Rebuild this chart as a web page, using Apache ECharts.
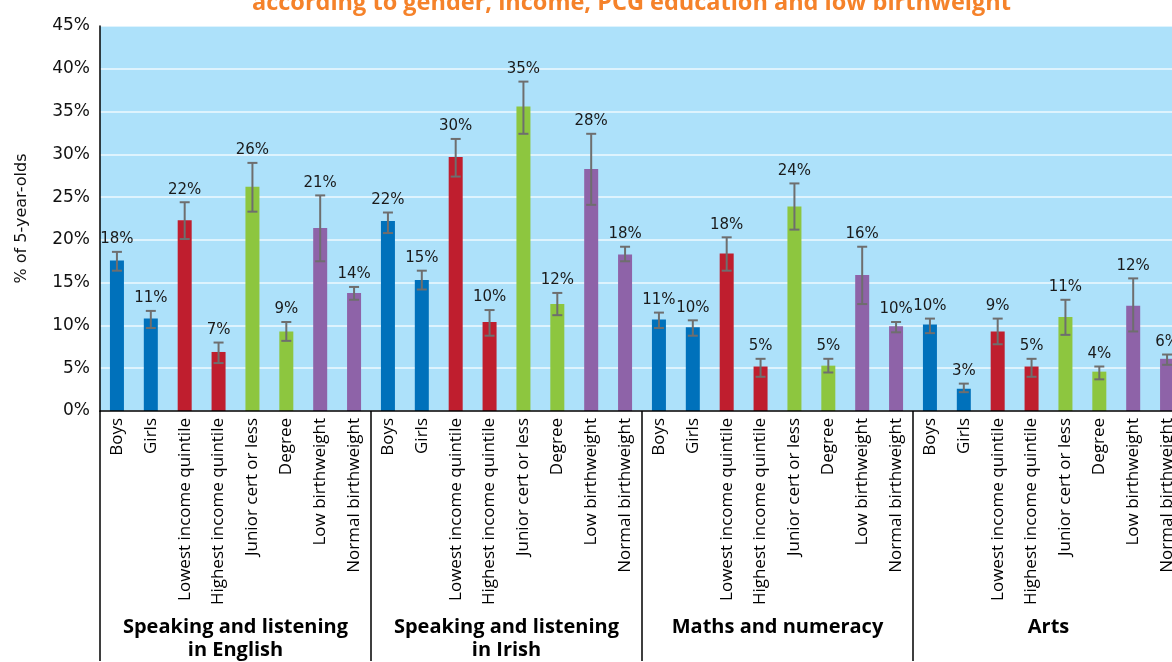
<!DOCTYPE html>
<html>
<head>
<meta charset="utf-8">
<script src="https://cdn.jsdelivr.net/npm/echarts@6/dist/echarts.min.js"></script>
<style>
html,body{margin:0;padding:0;background:#fff;overflow:hidden;}
#chart{width:1172px;height:662px;overflow:hidden;position:relative;}
</style>
</head>
<body>
<div id="chart"></div>
<script>
// ---- data ----
const subCategories = ['Boys','Girls','Lowest income quintile','Highest income quintile','Junior cert or less','Degree','Low birthweight','Normal birthweight'];
const groups = ['Speaking and listening\nin English','Speaking and listening\nin Irish','Maths and numeracy','Arts'];
const yTicks = [0,5,10,15,20,25,30,35,40,45];
const titleText = 'according to gender, income, PCG education and low birthweight';
const yAxisName = '% of 5-year-olds';

const englishValues = [17.6, 10.8, 22.3, 6.9, 26.2, 9.3, 21.4, 13.8];
const englishLow    = [16.4, 9.7, 20.1, 5.6, 23.3, 8.2, 17.5, 13.0];
const englishHigh   = [18.6, 11.7, 24.4, 8.0, 29.0, 10.4, 25.2, 14.5];
const englishLabels = ['18%','11%','22%','7%','26%','9%','21%','14%'];

const irishValues = [22.2, 15.3, 29.7, 10.4, 35.6, 12.5, 28.3, 18.3];
const irishLow    = [20.8, 14.2, 27.4, 8.8, 32.4, 11.2, 24.1, 17.5];
const irishHigh   = [23.2, 16.4, 31.8, 11.8, 38.5, 13.8, 32.4, 19.2];
const irishLabels = ['22%','15%','30%','10%','35%','12%','28%','18%'];

const mathsValues = [10.7, 9.8, 18.4, 5.2, 23.9, 5.3, 15.9, 9.9];
const mathsLow    = [9.7, 8.8, 16.4, 4.0, 21.2, 4.5, 12.5, 9.2];
const mathsHigh   = [11.5, 10.6, 20.3, 6.1, 26.6, 6.1, 19.2, 10.4];
const mathsLabels = ['11%','10%','18%','5%','24%','5%','16%','10%'];

const artsValues = [10.1, 2.6, 9.3, 5.2, 11.0, 4.6, 12.3, 6.1];
const artsLow    = [9.1, 2.2, 7.8, 4.0, 8.9, 3.7, 9.3, 5.4];
const artsHigh   = [10.8, 3.2, 10.8, 6.1, 13.0, 5.2, 15.5, 6.6];
const artsLabels = ['10%','3%','9%','5%','11%','4%','12%','6%'];

// ---- styles ----
const palette = ['#0071BB','#0071BB','#BF1E2E','#BF1E2E','#8DC63F','#8DC63F','#8E63A8','#8E63A8'];

// ---- build ----
const allValues = [].concat(englishValues, irishValues, mathsValues, artsValues);
const allLow = [].concat(englishLow, irishLow, mathsLow, artsLow);
const allHigh = [].concat(englishHigh, irishHigh, mathsHigh, artsHigh);
const allLabels = [].concat(englishLabels, irishLabels, mathsLabels, artsLabels);
const xKeys = [];
groups.forEach((g, gi) => subCategories.forEach((c, ci) => xKeys.push(gi + '|' + ci)));

const barData = allValues.map((v, i) => ({ value: v, itemStyle: { color: palette[i % 8] } }));
const errData = allValues.map((v, i) => [i, allLow[i], allHigh[i], allLabels[i]]);

// The chart canvas is a little wider than the window: the last group is cut at the right edge, as in the reference.
const chart = echarts.init(document.getElementById('chart'), null, { renderer: 'canvas', width: 1184, height: 662 });
const option = {
  animation: false,
  backgroundColor: '#ffffff',
  title: {
    text: titleText,
    left: 252,
    top: -9,
    padding: 0,
    textStyle: { color: '#F5822A', fontFamily: 'Open Sans', fontWeight: 'bold', fontSize: 23.5 }
  },
  grid: {
    left: 100, width: 1084, top: 26, height: 391,
    show: true, backgroundColor: '#ADE1FA', borderWidth: 0
  },
  xAxis: [
    {
      type: 'category',
      data: xKeys,
      axisLine: { show: true, lineStyle: { color: '#000', width: 1.5 } },
      axisTick: { show: false },
      axisLabel: {
        interval: 0, rotate: 90, margin: 7,
        fontFamily: 'Open Sans', fontSize: 17, color: '#000',
        formatter: (v) => subCategories[+v.split('|')[1]]
      },
      z: 5
    },
    {
      type: 'category',
      data: groups,
      position: 'bottom',
      axisLine: { show: false },
      axisTick: { show: true, length: 250, lineStyle: { color: '#000', width: 1.5 } },
      axisLabel: {
        interval: 0, margin: 205,
        fontFamily: 'Open Sans', fontWeight: 'bold', fontSize: 20, color: '#000', lineHeight: 23
      }
    }
  ],
  yAxis: {
    type: 'value', min: 0, max: 45, interval: 5,
    name: yAxisName, nameLocation: 'middle', nameGap: 70,
    nameTextStyle: { fontFamily: 'DejaVu Sans', fontSize: 16, color: '#111' },
    axisLine: { show: true, lineStyle: { color: '#000', width: 1.5 } },
    axisTick: { show: false },
    axisLabel: {
      margin: 10, fontFamily: 'DejaVu Sans', fontSize: 17, color: '#111',
      formatter: (v) => yTicks.indexOf(v) >= 0 ? v + '%' : ''
    },
    splitLine: { show: true, lineStyle: { color: 'rgba(255,255,255,0.6)', width: 2 } }
  },
  series: [
    {
      type: 'bar', xAxisIndex: 0, data: barData, barWidth: 14
    },
    {
      type: 'custom', xAxisIndex: 0, data: errData, z: 10,
      renderItem: function (params, api) {
        const i = api.value(0);
        const lo = api.coord([i, api.value(1)]);
        const hi = api.coord([i, api.value(2)]);
        const cap = 5;
        const st = { stroke: '#6E6E6E', lineWidth: 2 };
        return {
          type: 'group',
          children: [
            { type: 'line', shape: { x1: hi[0], y1: hi[1], x2: lo[0], y2: lo[1] }, style: st },
            { type: 'line', shape: { x1: hi[0] - cap, y1: hi[1], x2: hi[0] + cap, y2: hi[1] }, style: st },
            { type: 'line', shape: { x1: lo[0] - cap, y1: lo[1], x2: lo[0] + cap, y2: lo[1] }, style: st },
            { type: 'text', x: hi[0], y: hi[1] - 5,
              style: { text: allLabels[params.dataIndex], align: 'center', verticalAlign: 'bottom',
                       fontFamily: 'DejaVu Sans', fontSize: 15, fill: '#1a1a1a' } }
          ]
        };
      }
    }
  ]
};
chart.setOption(option);
</script>
</body>
</html>
